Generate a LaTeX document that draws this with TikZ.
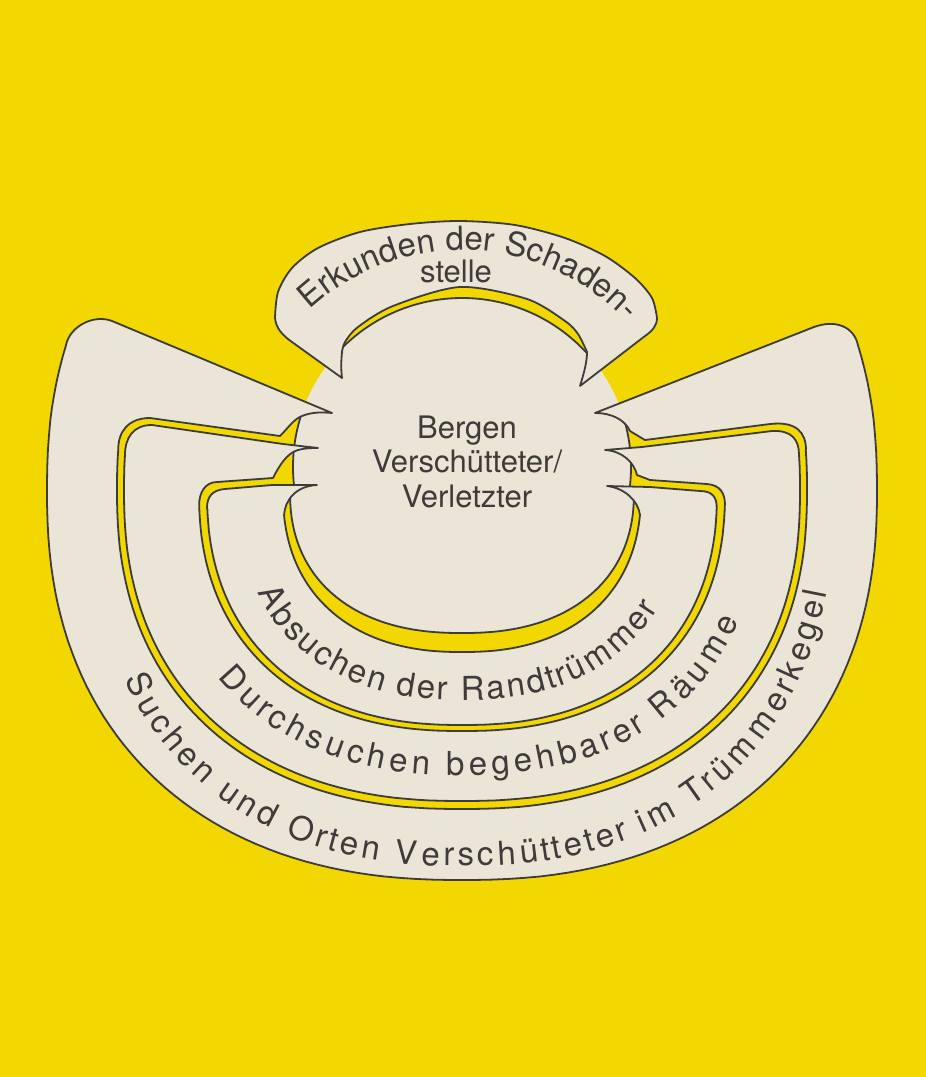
\documentclass[tikz,border=0pt]{standalone}
\usepackage{fontspec}
\setmainfont{TeX Gyre Heros}
\newcommand\bandfont{\fontsize{33}{33}\selectfont}
\usetikzlibrary{decorations.text}
\definecolor{bgy}{RGB}{242,216,0}
\definecolor{paper}{RGB}{235,229,215}
\definecolor{ink}{RGB}{62,60,58}
\begin{document}
\begin{tikzpicture}[x=1pt,y=-1pt,
  declare function={pe(\v)=((\v<0)?-1:1)*pow(abs(\v)+0.00001,0.87);
    sx(\t,\a)=462+\a*pe(cos(\t));
    sy(\t,\b)=490-\b*pe(sin(\t));},
  band/.style={fill=paper,draw=ink,line width=1.8pt,line join=round},
  edge/.style={draw=ink,line width=1.8pt},
  ctext/.style={font=\fontsize{31}{31}\selectfont,text=ink,anchor=base,inner sep=0pt},
  arctext/.style={decorate,decoration={text effects along path,text={#1},
     text effects/.cd, text along path, fit text to path,
     character widths={font=\bandfont,inner xsep=0pt},
     characters={text=ink,font=\bandfont}}}
]
\useasboundingbox (0,0) rectangle (926,1077);
\fill[bgy] (0,0) rectangle (926,1077);
% central area
\fill[paper] (462,467) circle[radius=169];
\fill[paper] plot[domain=180:360,samples=100,variable=\t] ({sx(\t,172)},{sy(\t,143)}) -- cycle;
% crescents
\fill[bgy] plot[domain=180:360,samples=100,variable=\t] ({sx(\t,200)},{sy(\t,180)})
  -- plot[domain=180:360,samples=100,variable=\t] ({sx(540-\t,172)},{sy(540-\t,143)}) -- cycle;
\fill[bgy] plot[domain=42.6:137.2,samples=60,variable=\t] ({462+169*cos(\t)},{467-169*sin(\t)})
  -- (348,300) -- (460,262) -- (578,300) -- cycle;
% visible outlines of the central area
\draw[edge] plot[domain=42.6:137.2,samples=60,variable=\t] ({462+169*cos(\t)},{467-169*sin(\t)});
\draw[edge] plot[domain=158.5:187.1,samples=30,variable=\t] ({462+169*cos(\t)},{467-169*sin(\t)});
\draw[edge] plot[domain=-7.1:21.5,samples=30,variable=\t] ({462+169*cos(\t)},{467-169*sin(\t)});
\draw[edge] plot[domain=180:360,samples=100,variable=\t] ({sx(\t,172)},{sy(\t,143)});
% outer band: Suchen und Orten
\path[band] (332,413) -- (112,321) .. controls (94,314) and (70,326) .. (66,345)
  -- plot[domain=161.3:378.7,samples=120,variable=\t] ({sx(\t,415)},{sy(\t,390)})
  .. controls (854,327) and (836,319) .. (814,327) -- (595,413)
  .. controls (612,413) and (625,420) .. (630,431) -- (645,440) -- (770,424)
  .. controls (797,421) and (806,433) .. (806,450)
  -- plot[domain=174.7:365.3,samples=120,variable=\t] ({sx(540-\t,345)},{sy(540-\t,319)})
  .. controls (118,432) and (128,418) .. (150,418) -- (280,436)
  .. controls (288,428) and (294,419) .. (302,416) .. controls (312,412) and (322,412) .. (332,413) -- cycle;
% middle band: Durchsuchen
\path[band] (318,448) -- (283,444) -- (152,425) .. controls (133,425) and (125,438) .. (125,455)
  -- plot[domain=175.3:364.7,samples=120,variable=\t] ({sx(\t,338)},{sy(\t,311)})
  .. controls (799,440) and (792,430) .. (772,431) -- (642,447) -- (605,450)
  .. controls (622,451) and (634,462) .. (637,475) -- (650,480) -- (707,484)
  .. controls (720,485) and (725,493) .. (725,505)
  -- plot[domain=182.36:357.64,samples=120,variable=\t] ({sx(540-\t,263)},{sy(540-\t,241)})
  .. controls (199,493) and (205,482) .. (217,482) -- (273,478)
  .. controls (279,466) and (287,453) .. (298,450) .. controls (305,448) and (312,448) .. (318,448) -- cycle;
% inner band: Absuchen
\path[band] (317,485) -- (272,485) -- (225,489) .. controls (212,490) and (207,497) .. (207,508)
  -- plot[domain=182.99:357.01,samples=120,variable=\t] ({sx(\t,255)},{sy(\t,235)})
  .. controls (717,497) and (712,491) .. (700,491) -- (650,487) -- (607,486)
  .. controls (624,488) and (638,500) .. (640,515)
  -- plot[domain=186.7:353.3,samples=120,variable=\t] ({sx(540-\t,179)},{sy(540-\t,162)})
  .. controls (285,500) and (296,486) .. (317,485) -- cycle;
% top band: Erkunden
\path[band] (275,318) -- plot[smooth] coordinates {(275,318) (278,292) (292,268) (318,248) (360,232) (410,224) (460,221) (515,225) (565,238) (605,256) (635,278) (652,298) (657,318)}
  .. controls (657,326) and (652,331) .. (645,336) -- (580,386)
  .. controls (584,373) and (587,362) .. (587,352)
  -- plot[smooth] coordinates {(587,352) (578,334) (565,321) (527,299) (460,287) (393,306) (358,327) (345,342) (342,352)}
  .. controls (341,362) and (341,370) .. (342,378) -- (292,342) .. controls (282,335) and (276,328) .. (275,318) -- cycle;
% texts
\path[arctext={Absuchen der Randtrümmer}]
  plot[domain=206:329,samples=100,variable=\t] ({sx(\t,224)},{sy(\t,210)});
\path[arctext={Durchsuchen begehbarer Räume}]
  plot[domain=218:336,samples=100,variable=\t] ({sx(\t,300)},{sy(\t,285)});
\path[arctext={Suchen und Orten Verschütteter im Trümmerkegel}]
  plot[domain=207:347,samples=120,variable=\t] ({sx(\t,373)},{sy(\t,376)});
\path[arctext={Erkunden der Schaden-}]
  plot[domain=47:137,samples=80,variable=\t] ({462+224*cos(180-\t)},{474-224*sin(180-\t)});
\node[ctext] (stelle) at (456,282) {stelle};
\node[ctext] (l1) at (467,438) {Bergen};
\node[ctext] (l2) at (467,472) {Verschütteter/};
\node[ctext] (l3) at (467,507) {Verletzter};
\end{tikzpicture}
\end{document}
